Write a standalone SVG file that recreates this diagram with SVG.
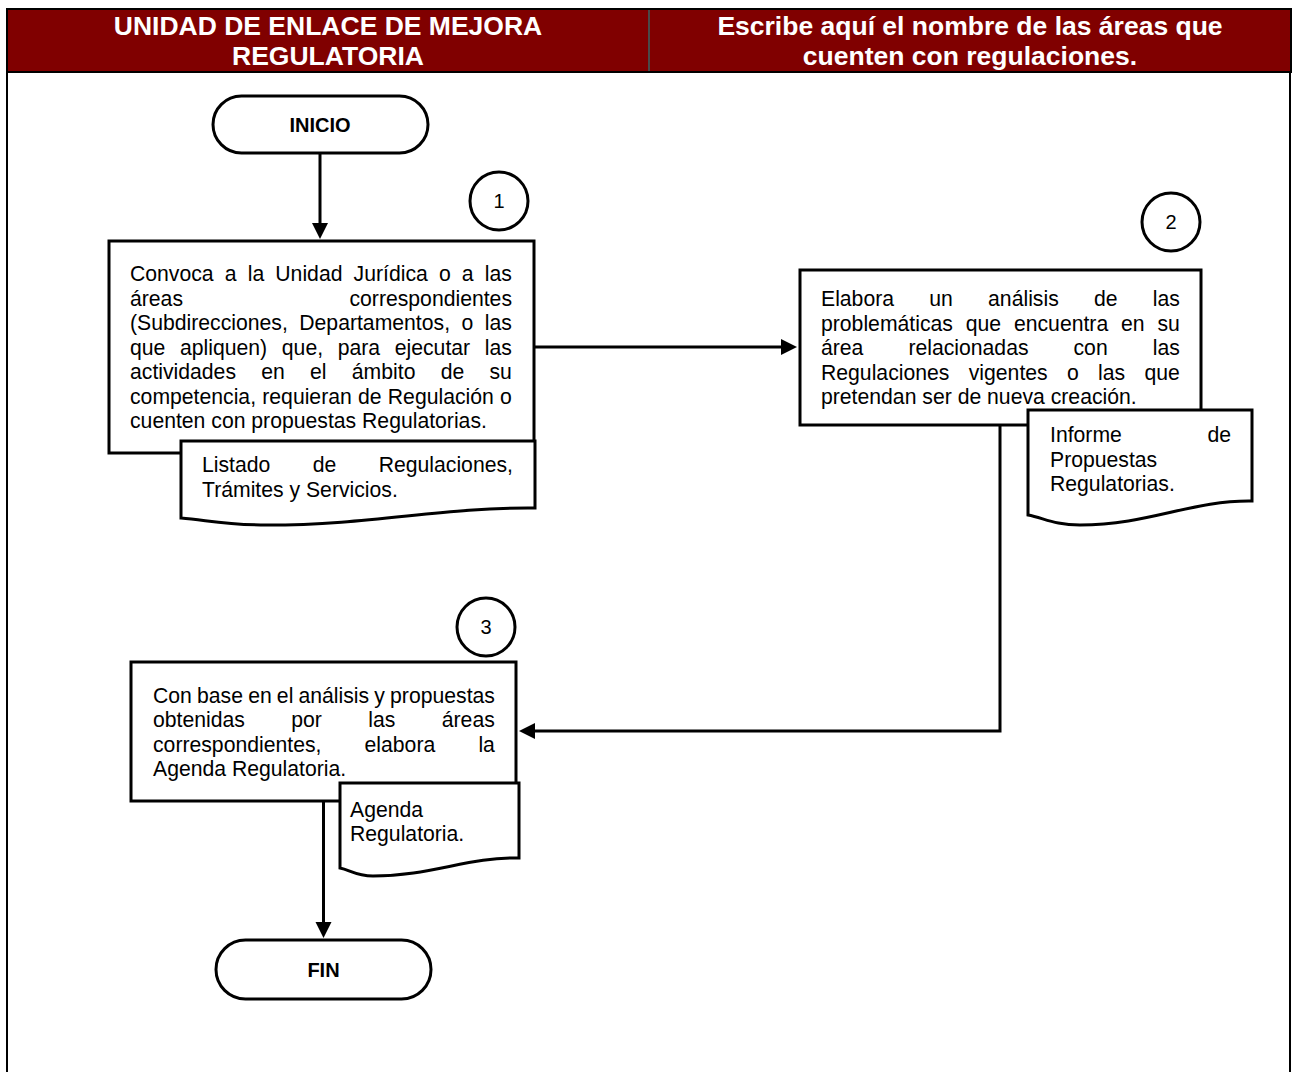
<svg xmlns="http://www.w3.org/2000/svg" width="1292" height="1072" viewBox="0 0 1292 1072">
  <defs>
    <style>
      .hd { font-family: "Liberation Sans", Arial, sans-serif; font-weight: bold; font-size: 26.5px; fill: #ffffff; text-anchor: middle; }
      .box { fill: #ffffff; stroke: #000000; stroke-width: 3; }
      .t { font-family: "Liberation Sans", Arial, sans-serif; font-size: 21.2px; fill: #000000; }
      .term { font-family: "Liberation Sans", Arial, sans-serif; font-weight: bold; font-size: 20px; fill: #000000; text-anchor: middle; }
      .num { font-family: "Liberation Sans", Arial, sans-serif; font-size: 20px; fill: #000000; text-anchor: middle; }
      .conn { fill: none; stroke: #000000; stroke-width: 3; }
      .end { text-anchor: end; }
    </style>
    <marker id="arrow" markerUnits="userSpaceOnUse" markerWidth="17" markerHeight="17" refX="10" refY="8" orient="auto">
      <path d="M0,0 L16,8 L0,16 Z" fill="#000000"/>
    </marker>
  </defs>

  <!-- page frame and lane headers -->
  <g id="header">
    <rect x="7" y="9" width="1284" height="63" fill="#800000" stroke="#000000" stroke-width="2"/>
    <line x1="649" y1="10" x2="649" y2="71" stroke="#4a4a4a" stroke-width="2"/>
    <line x1="7" y1="72" x2="7" y2="1072" stroke="#000000" stroke-width="2"/>
    <line x1="1290" y1="72" x2="1290" y2="1072" stroke="#000000" stroke-width="2"/>
    <text class="hd" x="328" y="35">UNIDAD DE ENLACE DE MEJORA</text>
    <text class="hd" x="328" y="65">REGULATORIA</text>
    <text class="hd" x="970" y="35">Escribe aquí el nombre de las áreas que</text>
    <text class="hd" x="970" y="65">cuenten con regulaciones.</text>
  </g>

  <!-- connectors -->
  <g id="connectors">
    <path class="conn" d="M320,154 V233" marker-end="url(#arrow)"/>
    <path class="conn" d="M535,347 H791" marker-end="url(#arrow)"/>
    <path class="conn" d="M1000,425 V731 H525" marker-end="url(#arrow)"/>
    <path class="conn" d="M323.5,801 V932" marker-end="url(#arrow)"/>
  </g>

  <g id="inicio">
    <rect class="box" x="213" y="96" width="215" height="57" rx="28.5" ry="28.5"/>
    <text class="term" x="320" y="132">INICIO</text>
  </g>

  <g id="step1-number">
    <circle class="box" cx="499" cy="201" r="29"/>
    <text class="num" x="499" y="208">1</text>
  </g>

  <g id="step1">
    <rect class="box" x="109" y="241" width="425" height="212"/>
    <text class="t" x="130" y="281" word-spacing="5.25">Convoca a la Unidad Jurídica o a las</text>
    <text class="t" x="130" y="305.5">áreas</text>
    <text class="t end" x="512" y="305.5">correspondientes</text>
    <text class="t" x="130" y="330" word-spacing="5.58">(Subdirecciones, Departamentos, o las</text>
    <text class="t" x="130" y="354.5" word-spacing="8.76">que apliquen) que, para ejecutar las</text>
    <text class="t" x="130" y="379" word-spacing="19.37">actividades en el ámbito de su</text>
    <text class="t" x="130" y="403.5" word-spacing="0.35">competencia, requieran de Regulación o</text>
    <text class="t" x="130" y="428">cuenten con propuestas Regulatorias.</text>
  </g>

  <g id="doc1">
    <path class="box" d="M181,441 H535 V508 C441,507 374,525 267,525 C224,525 207,520 181,518 Z"/>
    <text class="t" x="202" y="472" word-spacing="36.5">Listado de Regulaciones,</text>
    <text class="t" x="202" y="496.5">Trámites y Servicios.</text>
  </g>

  <g id="step2-number">
    <circle class="box" cx="1171" cy="222" r="29"/>
    <text class="num" x="1171" y="229">2</text>
  </g>

  <g id="step2">
    <rect class="box" x="800" y="270" width="401" height="155"/>
    <text class="t" x="821" y="306" word-spacing="29.36">Elabora un análisis de las</text>
    <text class="t" x="821" y="330.5" word-spacing="6.97">problemáticas que encuentra en su</text>
    <text class="t" x="821" y="355" word-spacing="39.1">área relacionadas con las</text>
    <text class="t" x="821" y="379.5" word-spacing="13.45">Regulaciones vigentes o las que</text>
    <text class="t" x="821" y="404">pretendan ser de nueva creación.</text>
  </g>

  <g id="doc2">
    <path class="box" d="M1028,410 H1252 V501 C1192,500 1149,525 1080,525 C1054,525 1044,518 1028,515 Z"/>
    <text class="t" x="1050" y="442">Informe</text>
    <text class="t end" x="1231" y="442">de</text>
    <text class="t" x="1050" y="466.5">Propuestas</text>
    <text class="t" x="1050" y="491">Regulatorias.</text>
  </g>

  <g id="step3-number">
    <circle class="box" cx="486" cy="627" r="29"/>
    <text class="num" x="486" y="634">3</text>
  </g>

  <g id="step3">
    <rect class="box" x="131" y="662" width="385" height="139"/>
    <text class="t" x="153" y="702.5" word-spacing="-0.73">Con base en el análisis y propuestas</text>
    <text class="t" x="153" y="727" word-spacing="40.5">obtenidas por las áreas</text>
    <text class="t" x="153" y="751.5" word-spacing="37.25">correspondientes, elabora la</text>
    <text class="t" x="153" y="776">Agenda Regulatoria.</text>
  </g>

  <g id="doc3">
    <path class="box" d="M340,783 H519 V858 C468,857 431,876 373,876 C356,876 350,870 340,868 Z"/>
    <text class="t" x="350" y="817">Agenda</text>
    <text class="t" x="350" y="840.5">Regulatoria.</text>
  </g>

  <g id="fin">
    <rect class="box" x="216" y="940" width="215" height="59" rx="29.5" ry="29.5"/>
    <text class="term" x="323.5" y="977">FIN</text>
  </g>
</svg>
